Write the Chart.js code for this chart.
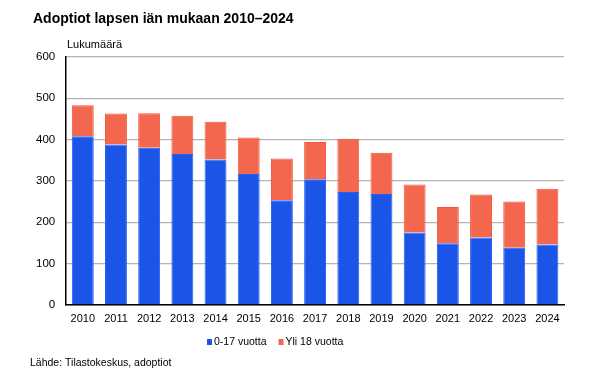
<!DOCTYPE html>
<html>
<head>
<meta charset="utf-8">
<script src="https://cdn.jsdelivr.net/npm/chart.js@4"></script>
<style>
html,body{margin:0;padding:0;background:#fff;}
#wrap{position:relative;width:600px;height:380px;}
</style>
</head>
<body>
<div id="wrap"><canvas id="c" width="600" height="380"></canvas></div>
<script>
const years = ["2010","2011","2012","2013","2014","2015","2016","2017","2018","2019","2020","2021","2022","2023","2024"];
const children = [408, 388, 380, 365, 352, 317, 253, 304, 273, 268, 175, 149, 163, 138, 146];
const adults = [75, 75, 84, 93, 91, 88, 101, 90, 129, 100, 116, 88, 104, 112, 135];
const seriesNames = ["0-17 vuotta", "Yli 18 vuotta"];
const yTicks = [0, 100, 200, 300, 400, 500, 600];
const titleText = "Adoptiot lapsen iän mukaan 2010–2024";
const unitText = "Lukumäärä";
const sourceText = "Lähde: Tilastokeskus, adoptiot";

const FONT = "'Liberation Sans', Arial, sans-serif";
const colors = [
  {fill: "#1a55e8", border: "#2a5df5"},
  {fill: "#f2674e", border: "#f4553a"}
];

const textPlugin = {
  id: "texts",
  afterDraw(chart) {
    const ctx = chart.ctx;
    ctx.save();
    ctx.fillStyle = "#000";
    ctx.textBaseline = "alphabetic";
    ctx.textAlign = "left";
    ctx.font = "bold 14px " + FONT;
    ctx.fillText(titleText, 33, 23);
    ctx.font = "11px " + FONT;
    ctx.fillText(unitText, 67, 48);
    ctx.font = "10.5px " + FONT;
    ctx.fillText(sourceText, 30, 366);
    // legend
    const items = [{t: seriesNames[0], c: colors[0].fill}, {t: seriesNames[1], c: colors[1].fill}];
    let x = 207;
    const y = 342;
    ctx.font = "10.5px " + FONT;
    items.forEach(it => {
      ctx.fillStyle = it.c;
      ctx.fillRect(x, y - 3, 5, 6);
      ctx.fillStyle = "#000";
      ctx.textBaseline = "middle";
      ctx.fillText(it.t, x + 7, y);
      x += 7 + ctx.measureText(it.t).width + 12;
    });
    ctx.restore();
  }
};

new Chart(document.getElementById("c"), {
  type: "bar",
  data: {
    labels: years,
    datasets: [
      {label: seriesNames[0], data: children, backgroundColor: colors[0].fill, borderColor: colors[0].border, borderWidth: 1, barPercentage: 0.66, categoryPercentage: 1},
      {label: seriesNames[1], data: adults, backgroundColor: colors[1].fill, borderColor: colors[1].border, borderWidth: 1, barPercentage: 0.66, categoryPercentage: 1}
    ]
  },
  options: {
    responsive: false,
    animation: false,
    layout: {padding: {left: 25, right: 36, top: 57, bottom: 46}},
    plugins: {legend: {display: false}, tooltip: {enabled: false}, title: {display: false}},
    scales: {
      x: {
        stacked: true,
        grid: {display: false, drawTicks: false},
        border: {display: true, color: "#000", width: 1.5},
        ticks: {color: "#000", font: {family: FONT, size: 11}, padding: 8, maxRotation: 0, autoSkip: false}
      },
      y: {
        stacked: true,
        min: 0, max: 600,
        afterBuildTicks(axis) { axis.ticks = yTicks.map(v => ({value: v})); },
        grid: {color: "#b4b4b4", lineWidth: 1.3, drawTicks: false},
        border: {display: true, color: "#000", width: 1.5},
        ticks: {color: "#000", font: {family: FONT, size: 11.5}, padding: 11}
      }
    }
  },
  plugins: [textPlugin]
});
</script>
</body>
</html>
